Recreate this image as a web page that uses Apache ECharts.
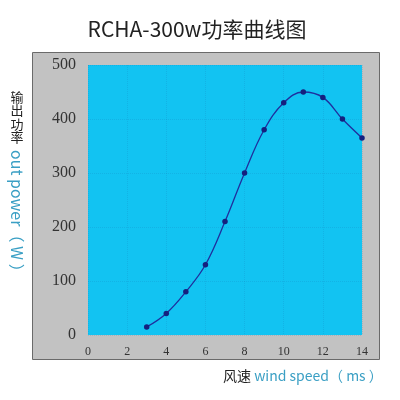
<!DOCTYPE html>
<html>
<head>
<meta charset="utf-8">
<script src="https://cdn.jsdelivr.net/npm/echarts@6/dist/echarts.min.js"></script>
<style>html,body{margin:0;padding:0;background:#fff}#c{width:400px;height:400px}</style>
</head>
<body>
<div id="c"></div>
<script>
var windSpeed = [3, 4, 5, 6, 7, 8, 9, 10, 11, 12, 13, 14];
var powerW = [15, 40, 80, 130, 210, 300, 380, 430, 450, 440, 400, 365];
var xTicks = [0, 2, 4, 6, 8, 10, 12, 14];
var yTicks = [0, 100, 200, 300, 400, 500];
var titleText = 'RCHA-300w功率曲线图';
var yNameCn = '输出功率';
var yNameEn = 'out power（ W ）';
var xNameCn = '风速';
var xNameEn = ' wind speed（ ms ）';

var data = windSpeed.map(function (x, i) { return [x, powerW[i]]; });
var chart = echarts.init(document.getElementById('c'));
var cjk = '"Noto Sans CJK SC", "Noto Sans", sans-serif';
var serif = '"Liberation Serif", "DejaVu Serif", serif';
chart.setOption({
  backgroundColor: '#ffffff',
  animation: false,
  graphic: [
    { type: 'rect', z: -10, shape: { x: 32.5, y: 52.5, width: 347, height: 307 },
      style: { fill: '#c2c2c2', stroke: '#6a6a6a', lineWidth: 1 } },
    { type: 'text', x: 197, y: 29, style: { text: titleText, font: '21px ' + cjk, fill: '#222', align: 'center', verticalAlign: 'middle' } },
    { type: 'text', x: 17, y: 90, style: { text: yNameCn.split('').join('\n'), font: '13px ' + cjk, fill: '#222', align: 'center', verticalAlign: 'top', lineHeight: 13.5 } },
    { type: 'text', x: 17, y: 150, rotation: -Math.PI / 2, style: { text: yNameEn, font: '16px ' + cjk, fill: '#3a9fc4', align: 'left', verticalAlign: 'middle' } },
    { type: 'text', x: 223, y: 376, style: { rich: { a: { font: '14px ' + cjk, fill: '#222' }, b: { font: '14px ' + cjk, fill: '#3a9fc4' } }, text: '{a|' + xNameCn + '}{b|' + xNameEn + '}', verticalAlign: 'middle', align: 'left' } }
  ],
  grid: { left: 88, top: 65, width: 274, height: 270, show: true, backgroundColor: '#12c3f2', borderWidth: 0 },
  xAxis: {
    type: 'value', min: 0, max: 14, interval: 2,
    axisLine: { show: false }, axisTick: { show: false },
    axisLabel: { margin: 11, fontFamily: serif, fontSize: 12, color: '#333',
      formatter: function (v) { return xTicks.indexOf(v) >= 0 ? String(v) : ''; } },
    splitLine: { show: true, lineStyle: { color: 'rgba(20,100,160,0.16)', type: 'dotted', width: 1 } }
  },
  yAxis: {
    type: 'value', min: 0, max: 500, interval: 100,
    axisLine: { show: false }, axisTick: { show: false },
    axisLabel: { margin: 12, fontFamily: serif, fontSize: 16, color: '#333',
      formatter: function (v) { return yTicks.indexOf(v) >= 0 ? String(v) : ''; } },
    splitLine: { show: true, lineStyle: { color: 'rgba(20,100,160,0.16)', type: 'dotted', width: 1 } }
  },
  series: [{
    type: 'line', data: data, smooth: 0.4,
    symbol: 'circle', symbolSize: 5.5,
    lineStyle: { color: '#1f2f9e', width: 1.3 },
    itemStyle: { color: '#15207e' }
  }]
});
</script>
</body>
</html>
